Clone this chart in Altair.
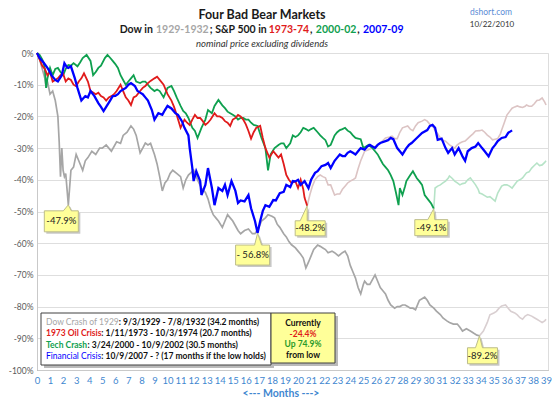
import altair as alt
import pandas as pd

# ---------------- data ----------------
gray_m = [0, 0.2, 0.4, 0.6, 0.7, 0.8, 1.0, 1.2, 1.4, 1.6, 1.7, 1.8, 1.9, 2.0, 2.1, 2.2, 2.4, 2.6, 2.8, 3.0,
          3.2, 3.5, 3.7, 3.9, 4.2, 4.5, 4.8, 5.0, 5.3, 5.5, 5.7, 6.1, 6.4, 6.6, 6.9, 7.2, 7.4, 7.6, 7.9, 8.1,
          8.3, 8.5, 8.7, 9.0, 9.2, 9.4, 9.6, 9.8, 10.0, 10.2, 10.4, 10.7, 11.0, 11.2, 11.4, 11.6, 12.0, 12.3,
          12.6, 12.9, 13.1, 13.3, 13.5, 13.7, 13.9, 14.2, 14.4, 14.6, 14.8, 15.0, 15.2, 15.4, 15.6, 15.9,
          16.2, 16.5, 16.7, 17.0, 17.2, 17.5, 17.7, 18.0, 18.2, 18.4, 18.6, 18.9, 19.1, 19.3, 19.5, 19.8,
          20.0, 20.2, 20.4, 20.6, 20.8, 21.0, 21.2, 21.5, 21.7, 21.9, 22.1, 22.3, 22.6, 22.8, 23.1, 23.4,
          23.6, 23.8, 24.0, 24.2, 24.4, 24.6, 24.8, 25.0, 25.1, 25.3, 25.5, 25.7, 25.9, 26.1, 26.3, 26.5,
          26.7, 26.9, 27.1, 27.4, 27.6, 27.8, 28.0, 28.2, 28.4, 28.6, 28.8, 29.0, 29.2, 29.3, 29.5, 29.7,
          29.9, 30.1, 30.4, 30.6, 30.9, 31.1, 31.4, 31.6, 31.9, 32.2, 32.4, 32.6, 32.9, 33.2, 33.5, 33.7, 33.9]
gray_v = [0, -2, -5, -8, -11, -9, -13, -12, -15, -20, -28, -39, -30, -37, -39, -38, -47.9, -37, -36, -32,
          -34, -37, -34, -33, -31, -32, -30, -30, -29, -30, -31, -28, -28.5, -26, -25, -23, -24, -26, -31.5, -30,
          -28.4, -29, -28.5, -32, -35, -39, -43.5, -41, -40, -38, -37, -38, -39, -42.6, -40, -38.5, -37, -40,
          -42.6, -44, -46, -49, -51, -52, -53, -55, -53, -51, -52, -53, -54.5, -56, -57, -56,
          -55.5, -57, -57, -55, -53, -52, -51, -51.5, -52, -54, -55, -57, -58, -59.5, -60.5, -61.5,
          -62.5, -63.5, -64.7, -67.8, -66, -64, -62, -60.6, -61, -61.5, -62, -63, -62.5, -63, -64, -63,
          -62.5, -64, -67, -69, -71, -74, -76, -73, -72, -73, -73, -71.5, -70, -72, -74, -75,
          -76, -78, -79.5, -80.5, -80, -80, -79.5, -79.5, -80, -80.5, -80.5, -81, -79, -78, -77.5, -77,
          -78, -79.5, -80.5, -81.4, -82.5, -83.6, -84.5, -85, -85.5, -85.5, -86.5, -87.7, -87, -87.7, -88.5, -89, -89.2]
gray_after_m = [33.9, 34.2, 34.5, 34.7, 35.0, 35.2, 35.4, 35.6, 35.9, 36.1, 36.3, 36.6, 36.8, 37.0, 37.2,
                37.4, 37.6, 37.9, 38.1, 38.3, 38.5, 38.7, 38.9, 39.0]
gray_after_v = [-89.2, -87.7, -85, -82.6, -82, -81.5, -80.5, -79.8, -79.5, -80.5, -81.5, -82, -82.6, -83.5, -84,
                -83, -82.5, -83, -83.5, -84, -84.5, -85, -84.5, -84]

red_m = [0, 0.2, 0.4, 0.6, 0.8, 1.0, 1.2, 1.4, 1.6, 1.8, 2.0, 2.2, 2.4, 2.6, 2.8, 3.0, 3.2, 3.4, 3.6, 3.9,
         4.1, 4.3, 4.5, 4.7, 4.9, 5.1, 5.3, 5.5, 5.7, 5.9, 6.1, 6.4, 6.6, 6.8, 7.0, 7.2, 7.4, 7.6, 7.9, 8.1,
         8.3, 8.5, 8.7, 9.0, 9.2, 9.4, 9.7, 10.0, 10.3, 10.5, 10.7, 11.0, 11.3, 11.5, 11.7, 11.9, 12.1, 12.3,
         12.5, 12.7, 12.9, 13.1, 13.3, 13.6, 13.8, 14.0, 14.2, 14.4, 14.6, 14.8, 15.0, 15.2, 15.4, 15.6, 15.8,
         16.0, 16.2, 16.4, 16.6, 16.8, 17.1, 17.3, 17.5, 17.8, 18.1, 18.3, 18.5, 18.7, 18.9, 19.1, 19.3, 19.5,
         19.8, 20.0, 20.2, 20.4, 20.5, 20.7]
red_v = [0, -2, -4, -5, -7, -6, -9, -8.5, -8, -7, -6.5, -9, -8, -8.5, -10, -10.5, -9, -8, -6.4, -9,
         -12, -12.5, -13, -12.5, -13.6, -14, -15, -14, -13.6, -13, -12, -10, -12, -14, -15, -16.4, -14, -13.6, -12, -11,
         -10.4, -9.5, -8.8, -8, -7.5, -8.5, -10, -13, -15, -17, -19.5, -23.6, -21, -22, -22.7, -21, -19.5, -20.5,
         -20.5, -21.5, -22.7, -22, -21, -19, -20, -20, -20.5, -21.5, -22, -23, -21, -20.5, -19.5, -20, -21,
         -22.5, -24.6, -27, -25, -23.6, -23, -26.8, -30, -33, -31, -32, -33, -32, -35, -38.5, -40, -41,
         -40.5, -42.6, -40, -43, -45.7, -48.2]
red_after_m = [20.7, 20.9, 21.1, 21.3, 21.5, 21.7, 21.9, 22.1, 22.3, 22.5, 22.8, 23.0, 23.2, 23.4, 23.6, 23.8,
               24.0, 24.2, 24.4, 24.6, 24.8, 25.0, 25.1, 25.4, 25.7, 26.1, 26.4, 26.7, 27.0, 27.2, 27.4, 27.6,
               27.8, 28.0, 28.4, 28.6, 28.8, 29.0, 29.2, 29.5, 29.7, 29.9, 30.1, 30.3, 30.5, 30.7, 30.9, 31.1,
               31.3, 31.6, 31.8, 32.0, 32.2, 32.4, 32.6, 32.8, 33.0, 33.2, 33.4, 33.6, 33.9, 34.1, 34.3, 34.5,
               34.7, 34.9, 35.1, 35.3, 35.5, 35.6, 35.8, 36.0, 36.2, 36.4, 36.6, 36.8, 37.0, 37.2, 37.4, 37.5,
               37.7, 37.9, 38.1, 38.3, 38.5, 38.7, 38.9, 39.0]
red_after_v = [-48.2, -44.8, -42, -40, -39, -38.5, -39, -39.4, -41.6, -41.6, -44.8, -44.5, -44.5, -43, -42, -41,
               -40.4, -40, -39.4, -36.5, -34, -32, -31, -30.5, -30, -29, -28, -26.8, -26.5, -26.2, -27, -27,
               -25, -23.6, -23, -24, -24.5, -23, -22, -21.5, -21, -21.5, -22.5, -23, -24.5, -25.5, -26.8, -27.5,
               -27.8, -29, -29.5, -30, -29, -28.4, -28, -27.8, -27, -26.2, -25.5, -24.6, -24.5, -24.3, -25, -25.9,
               -26.5, -27.4, -27.2, -27, -25.5, -24.3, -22, -19.6, -18.5, -17.4, -17, -16.7, -17, -17.2, -16.8, -16.4,
               -16.8, -16.8, -16, -15, -14.8, -14.2, -15.5, -16.4]

green_m = [0, 0.2, 0.4, 0.5, 0.6, 0.7, 0.8, 1.0, 1.2, 1.4, 1.6, 1.8, 2.0, 2.2, 2.4, 2.6, 2.8, 3.1, 3.3, 3.5,
           3.8, 4.1, 4.3, 4.5, 4.7, 4.9, 5.2, 5.4, 5.6, 5.8, 6.0, 6.2, 6.4, 6.6, 6.8, 7.0, 7.2, 7.4, 7.6, 7.9,
           8.1, 8.3, 8.5, 8.7, 9.0, 9.2, 9.4, 9.7, 10.0, 10.3, 10.5, 10.7, 11.0, 11.2, 11.4, 11.6, 11.9, 12.1,
           12.3, 12.6, 12.9, 13.1, 13.4, 13.6, 13.9, 14.2, 14.4, 14.6, 14.8, 15.0, 15.2, 15.4, 15.6, 15.8, 16.0,
           16.2, 16.4, 16.6, 16.9, 17.2, 17.5, 17.7, 17.9, 18.2, 18.5, 18.7, 18.9, 19.1, 19.4, 19.6, 19.8, 20.0,
           20.2, 20.4, 20.6, 20.8, 21.0, 21.2, 21.5, 21.7, 21.9, 22.1, 22.3, 22.5, 22.7, 22.8, 23.0, 23.2, 23.4,
           23.6, 23.8, 24.0, 24.2, 24.4, 24.6, 24.8, 25.0, 25.2, 25.4, 25.7, 25.9, 26.1, 26.3, 26.5, 26.7, 26.9,
           27.1, 27.3, 27.5, 27.7, 27.8, 28.0, 28.2, 28.3, 28.6, 28.8, 29.1, 29.3, 29.5, 29.7, 30.0, 30.2, 30.4]
green_v = [0, -0.6, -2, -3, -5, -11, -8, -4.7, -7, -5, -4.7, -6, -7, -5, -3.8, -4, -3.2, -4.2, -3, -1.6,
           -0.6, -2.5, -7, -6, -4.7, -4, -1.6, -0.6, -1.5, -2.5, -3.5, -4.7, -7, -8.5, -10, -9, -8, -7, -9, -9.5,
           -9, -9, -10, -11, -12, -11.5, -12, -14, -11, -10.4, -12, -14, -16.7, -18.3, -19, -20.5, -23.6, -24.6,
           -26.8, -23.6, -21, -18, -19, -16.7, -14.8, -16.5, -17.4, -18.5, -19, -19.5, -20, -21, -20.5, -20.5, -21,
           -21, -22, -22.7, -23, -26.8, -30, -37, -32, -30, -29, -28.5, -28.5, -30, -28.5, -26, -26.5, -26,
           -25, -23.6, -24, -24.5, -24, -23.6, -25, -26, -26.8, -27.5, -29.5, -29, -27, -26, -25, -24.3, -24,
           -23.6, -24.5, -25, -26, -26.8, -27, -27.2, -30, -29.5, -29, -30, -31, -32, -33.5, -35, -36, -37,
           -38.5, -40.4, -44, -48, -42.6, -44.8, -42, -40.4, -38.5, -37.3, -39.5, -40.5, -41.6, -44.8, -46.4, -47.5, -49.1]
green_after_m = [30.4, 30.5, 30.7, 30.9, 31.1, 31.3, 31.5, 31.6, 31.8, 32.0, 32.2, 32.4, 32.6, 32.8, 33.0, 33.2,
                 33.4, 33.6, 33.8, 33.9, 34.1, 34.3, 34.5, 34.7, 34.9, 35.1, 35.3, 35.6, 35.8, 36.0, 36.2, 36.4,
                 36.6, 36.8, 37.0, 37.2, 37.5, 37.7, 37.9, 38.1, 38.3, 38.5, 38.7, 38.9, 39.0]
green_after_v = [-49.1, -42.6, -42, -41.6, -41, -40.4, -39.5, -38.8, -39.5, -40.4, -41, -41.6, -41.2, -41, -40, -39.4,
                 -40.5, -41.6, -43, -44.2, -44.5, -45, -45.5, -45.3, -46, -46.7, -44.2, -42, -41.6, -41.6, -42, -42.6,
                 -41.5, -40.4, -40, -39.4, -37.8, -37.5, -36.3, -35.5, -34.7, -35.5, -35.3, -34.5, -34]

blue_m = [0, 0.2, 0.4, 0.5, 0.8, 1.0, 1.1, 1.4, 1.6, 1.9, 2.1, 2.3, 2.4, 2.6, 2.9, 3.1, 3.4, 3.7, 3.9, 4.1,
          4.4, 4.7, 4.9, 5.1, 5.3, 5.6, 5.8, 6.0, 6.2, 6.4, 6.6, 6.8, 7.0, 7.2, 7.5, 7.7, 7.9, 8.1, 8.3, 8.5,
          8.8, 9.0, 9.3, 9.6, 9.8, 10.0, 10.3, 10.6, 10.8, 11.1, 11.3, 11.6, 11.7, 11.9, 12.0, 12.2, 12.5, 12.6,
          12.9, 13.1, 13.4, 13.6, 13.9, 14.2, 14.4, 14.6, 14.9, 15.2, 15.4, 15.6, 15.9, 16.2, 16.4, 16.7, 16.9,
          17.1, 17.3, 17.5, 17.8, 18.1, 18.3, 18.6, 18.9, 19.1, 19.4, 19.6, 19.8, 20.0, 20.2, 20.5, 20.8, 21.0,
          21.3, 21.5, 21.8, 22.1, 22.3, 22.5, 22.8, 23.0, 23.2, 23.4, 23.6, 23.8, 24.0, 24.2, 24.4, 24.6, 24.8,
          25.1, 25.3, 25.5, 25.7, 25.9, 26.1, 26.3, 26.7, 26.9, 27.1, 27.3, 27.6, 27.8, 28.0, 28.3, 28.5, 28.7,
          29.1, 29.5, 29.9, 30.1, 30.3, 30.5, 30.7, 31.0, 31.3, 31.5, 31.8, 32.0, 32.3, 32.6, 32.8, 33.0, 33.3,
          33.6, 33.8, 34.1, 34.3, 34.6, 34.9, 35.1, 35.3, 35.6, 35.9, 36.1, 36.4]
blue_v = [0, -1.6, -2.5, -3, -4.7, -6, -7, -8.5, -9, -7, -3.2, -4.5, -4.7, -4.2, -8, -11, -15, -13.6, -14, -12,
          -13.6, -15.8, -17, -18.3, -17, -15, -13.6, -13.5, -13, -12, -11.5, -11, -10, -9.5, -10.4, -12, -12.5, -13, -14, -15,
          -18, -21, -19, -19.5, -18, -16.7, -17.5, -19, -19.5, -21.5, -23.6, -26, -30, -36.3, -40.4, -37.3, -40.4, -44.8,
          -41.6, -36.3, -42.6, -48, -42.6, -43.5, -41.6, -44.8, -40.4, -43.5, -47.3, -46.5, -46.8, -44.8, -49, -53, -56.8,
          -53, -49.8, -48, -48.5, -46.4, -46.5, -44.2, -43.8, -41.6, -42.3, -40.4, -40.5, -40, -41.6, -40.4, -42.6, -40,
          -37.8, -37.3, -35.7, -35.3, -34.7, -36.3, -34, -33, -32, -32.5, -32.5, -31.5, -31, -31.5, -32, -31, -30,
          -30.5, -29.5, -29, -29.5, -30, -29, -28.4, -27.8, -27.5, -26.8, -27.2, -30, -31, -32, -30, -29, -28.4,
          -26.8, -25.2, -24.3, -23, -22.7, -23.6, -27.4, -27, -30, -31.5, -30, -32, -30, -32.6, -34, -31, -30,
          -29.5, -28.4, -30, -31, -32.6, -30, -29, -27.8, -26.8, -26.5, -25.2, -24.4]

callout_m = [2.4, 16.9, 20.7, 30.4, 33.9]
callout_v = [-47.9, -56.8, -48.2, -49.1, -89.2]
callout_text = ["-47.9%", "- 56.8%", "-48.2%", "-49.1%", "-89.2%"]

month_ticks = list(range(0, 40))
pct_ticks = list(range(-100, 1, 10))

# ---------------- styling / layout ----------------
FONT = "Lato"
GRAY, RED, GREEN, BLUE = "#a6a6a6", "#e01b1b", "#0fa04f", "#0000ff"
GRAY_F, RED_F, GREEN_F = "#d9cfd1", "#dcc4c4", "#b6e3c7"

# rough Lato advance widths (em) used to chain differently coloured text pieces
_W = {" ": .2, "-": .34, "/": .36, "(": .3, ")": .3, ".": .2, ":": .22, ";": .23, ",": .22, "?": .45,
      "%": .78, "&": .68, "a": .49, "b": .55, "c": .45, "d": .55, "e": .51, "f": .31, "g": .5, "h": .55,
      "i": .24, "k": .5, "l": .24, "m": .83, "n": .55, "o": .55, "p": .55, "r": .36, "s": .42, "t": .34,
      "u": .55, "v": .5, "w": .77, "x": .49, "y": .5, "C": .66, "D": .73, "F": .52, "O": .78, "P": .58,
      "S": .5, "T": .56, "U": .7, "M": .86}


def tw(s, size, bold=False):
    w = sum(_W.get(ch, .58) for ch in " ".join(s.split(" ")))
    if s.endswith(" "):
        w += 0.12
    return w * size * 1.03


X = alt.X("month:Q", scale=alt.Scale(domain=[0, 39.15], nice=False, zero=False),
          axis=alt.Axis(values=month_ticks, title=None, grid=False, ticks=False, labelColor="#3f87d0",
                        labelFontSize=9.5, labelPadding=5, labelFlush=False, domainColor="#b4b4b4",
                        domainDash=[1, 1], labelFont=FONT))
Y = alt.Y("pct:Q", scale=alt.Scale(domain=[-100, 0], nice=False, zero=False),
          axis=alt.Axis(values=pct_ticks, title=None, grid=True, gridColor="#dedede", ticks=False,
                        labelColor="#5a5a5a", labelFontSize=8.5, labelPadding=4, domainColor="#b4b4b4",
                        domainDash=[1, 1], labelExpr="datum.value + '%'", labelFont=FONT))


def line(m, v, color, width):
    df = pd.DataFrame({"month": m, "pct": v})
    return alt.Chart(df).mark_line(color=color, strokeWidth=width).encode(x=X, y=Y)


layers = [
    line(gray_after_m, gray_after_v, GRAY_F, 1.6),
    line(red_after_m, red_after_v, RED_F, 1.6),
    line(green_after_m, green_after_v, GREEN_F, 1.6),
    line(gray_m, gray_v, GRAY, 1.7),
    line(green_m, green_v, GREEN, 1.8),
    line(red_m, red_v, RED, 1.8),
    line(blue_m, blue_v, BLUE, 2.3),
]

# callouts: (left, right, top, bottom, pointer a, pointer b, text dx, text dy) px relative to the point
callout_geom = [
    (-24, 10, 6, 27, -5, 3, -7, 16.5),
    (-22, 12, 12, 32, -3, 4, -5, 22),
    (-12, 18, 15, 30, -7, 0, 3, 22.5),
    (-19, 14, 11, 27, -6, 1, -2.5, 19),
    (-12, 18, 12, 28, -4, 3, 3, 20),
]
for i, (L, R, T, B, a, b, tx, ty) in enumerate(callout_geom):
    df = pd.DataFrame({"month": [callout_m[i]], "pct": [callout_v[i]], "label": [callout_text[i]]})
    path = f"M0,0 L{b},{T} L{R},{T} L{R},{B} L{L},{B} L{L},{T} L{a},{T} Z"
    base = alt.Chart(df)
    layers.append(base.mark_point(shape=path, size=4, filled=True, fill="#9a9a9a", opacity=0.55,
                                  strokeWidth=0, xOffset=2, yOffset=2).encode(x=X, y=Y))
    layers.append(base.mark_point(shape=path, size=4, filled=True, fill="#ffff99", opacity=1,
                                  stroke="#bdbd8a", strokeWidth=1).encode(x=X, y=Y))
    layers.append(base.mark_text(dx=tx, dy=ty, fontSize=9.5, font=FONT, color="#222222")
                  .encode(x=X, y=Y, text="label:N"))

one = pd.DataFrame({"k": [0]})


# positions below are plot px (page px minus 37, 53)
def box(x1, x2, y1, y2, fill, stroke=None, sw=0, opacity=1):
    kw = dict(fill=fill, opacity=opacity)
    if stroke:
        kw.update(stroke=stroke, strokeWidth=sw)
    else:
        kw.update(strokeWidth=0)
    return alt.Chart(one).mark_rect(**kw).encode(
        x=alt.value(x1), x2=alt.value(x2), y=alt.value(y1), y2=alt.value(y2))


layers.append(box(7, 237, 263, 315, "#8c8c8c", opacity=0.6))
layers.append(box(4, 234, 260, 312, "#ffffff", "#404040", 1))
layers.append(box(237, 301, 263, 313, "#8c8c8c", opacity=0.6))
layers.append(box(234, 298, 260, 310, "#ffff99", "#404040", 1))


def txt(x, y, s, color="#000000", size=10, weight="normal", align="left", style="normal"):
    return alt.Chart(one).mark_text(text=s, color=color, fontSize=size, fontWeight=weight, align=align,
                                    baseline="middle", font=FONT, fontStyle=style).encode(
        x=alt.value(x), y=alt.value(y))


# titles
layers.append(txt(225, -38, "Four Bad Bear Markets", "#1a1a1a", 12.5, "bold", "center"))
sub = [("Dow in ", "#1a1a1a"), ("1929-1932", GRAY), ("; S&P 500 in ", "#1a1a1a"),
       ("1973-74", RED), (", ", "#1a1a1a"), ("2000-02", GREEN), (", ", "#1a1a1a"), ("2007-09", BLUE)]
SUB_SIZE = 10.5
total = sum(tw(s, SUB_SIZE, True) for s, _ in sub)
x = 225 - total / 2
for s, c in sub:
    layers.append(txt(x, -23, s.strip(), c, SUB_SIZE, "bold"))
    x += tw(s, SUB_SIZE, True)
layers.append(txt(225, -9, "nominal price excluding dividends", "#333333", 9.5, "normal", "center", "italic"))
layers.append(txt(454, -41, "dshort.com", "#5b8dd6", 8.5, "normal", "center"))
layers.append(txt(455, -28, "10/22/2010", "#333333", 8, "normal", "center"))

# legend text
LEG = 8.5
leg = [
    ("Dow Crash of 1929", GRAY, "normal", ": 9/3/1929 - 7/8/1932 (34.2 months)"),
    ("1973 Oil Crisis", RED, "bold", ": 1/11/1973 - 10/3/1974 (20.7 months)"),
    ("Tech Crash", GREEN, "bold", ": 3/24/2000 - 10/9/2002 (30.5 months)"),
    ("Financial Crisis", BLUE, "normal", ": 10/9/2007 - ? (17 months if the low holds)"),
]
for i, (name, c, w, rest) in enumerate(leg):
    y = 269 + i * 11.3
    layers.append(txt(9, y, name, c, LEG, w))
    layers.append(txt(9 + tw(name, LEG, w == "bold"), y, rest, "#111111", LEG, "bold"))

cur = [("Currently", "#111111"), ("-24.4%", RED), ("Up  74.9%", "#2a9a2a"), ("from low", "#111111")]
for i, (s, c) in enumerate(cur):
    layers.append(txt(266, 270 + i * 10.7, s, c, 8.5, "bold", "center"))

layers.append(txt(244, 341, "<---  Months  --->", "#3f87d0", 10.5, "bold", "center"))

chart = alt.layer(*layers).properties(
    width=511, height=317,
    padding={"left": 29, "top": 45, "right": 4, "bottom": 29},
    autosize=alt.AutoSizeParams(type="none"),
    background="#ffffff",
).configure_view(stroke=None).configure(font=FONT)

chart.save("out.html", embed_options={"renderer": "svg", "actions": False})
